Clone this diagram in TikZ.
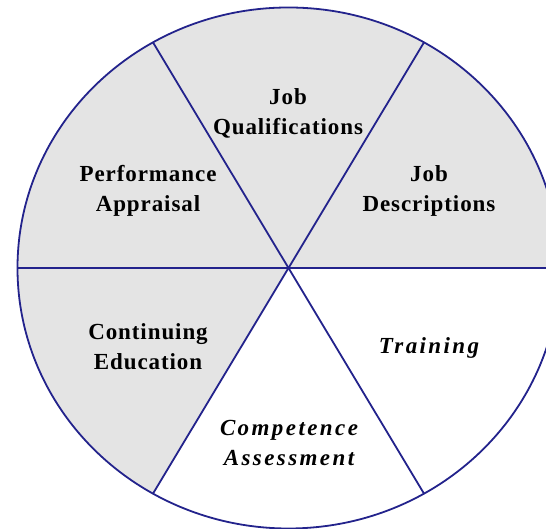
\documentclass[tikz,border=0pt]{standalone}
\usepackage{fontspec}
\usetikzlibrary{calc}
\setmainfont{Liberation Serif}
\newfontfamily\wheelfont{Liberation Serif}[LetterSpace=4]
\newfontfamily\wheelitfont{Liberation Serif}[LetterSpace=10.5]
\definecolor{rim}{HTML}{23238C}
\definecolor{sector}{HTML}{E4E4E4}
\begin{document}
\begin{tikzpicture}[x=1pt,y=1pt,
  rimline/.style={draw=rim,line width=1.8pt},
  spoke/.style={draw=rim,line width=1.8pt},
  boldspoke/.style={draw=rim,line width=2.8pt},
  label/.style={align=center,text=black,font=\wheelfont\bfseries\fontsize{23}{30}\selectfont},
  itlabel/.style={align=center,text=black,font=\wheelitfont\bfseries\itshape\fontsize{23}{30}\selectfont}]
\useasboundingbox (0,0) rectangle (546,529);
\clip (0,0) rectangle (546,529);
\fill[white] (0,0) rectangle (546,529);
% hub and rim points (parametric angles on the ellipse)
\coordinate (c) at (288.5,261);
\def\rx{271}\def\ry{260.5}
\foreach \a/\n in {0/p0,60/p60,120/p120,180/p180,240/p240,300/p300}
  \coordinate (\n) at ($(c)+({\rx*cos(\a)},{\ry*sin(\a)})$);
% shaded sectors
\fill[sector] (c) -- (p0) arc[start angle=0,end angle=240,x radius=\rx,y radius=\ry] -- cycle;
% rim
\draw[rimline] (c) ellipse[x radius=\rx,y radius=\ry];
% spokes
\draw[spoke] (c) -- (p60);
\draw[spoke] (c) -- (p120);
\draw[spoke] (c) -- (p180);
\draw[spoke] (c) -- (p240);
\draw[spoke] (c) -- (p300);
\draw[boldspoke] (c) -- (p0);
% sector labels
\node[label] (qual) at (288,416) {Job\\Qualifications};
\node[label] (perf) at (148,338.5) {Performance\\Appraisal};
\node[label] (desc) at (429,338.5) {Job\\Descriptions};
\node[label] (edu) at (148,182) {Continuing\\Education};
\node[itlabel] (train) at (429,181.5) {Training};
\node[itlabel] (comp) at (289,86) {Competence\\Assessment};
\end{tikzpicture}
\end{document}
